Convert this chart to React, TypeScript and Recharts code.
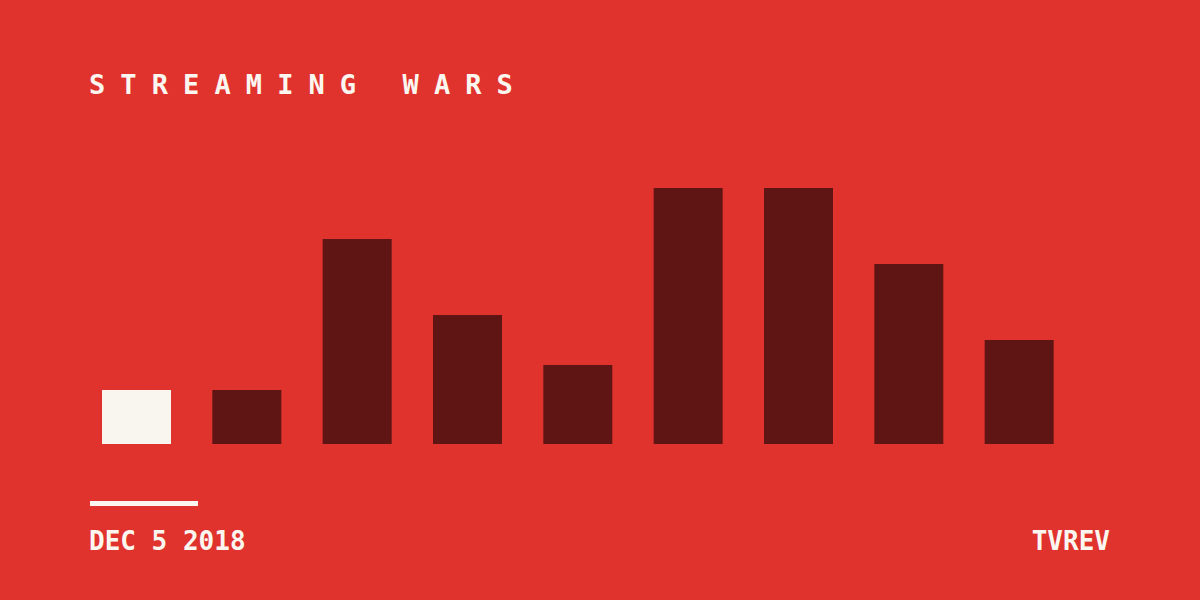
import { BarChart, Bar, XAxis, YAxis, Cell } from "recharts"

const categories = ["A", "B", "C", "D", "E", "F", "G", "H", "I"]
const values = [54, 54, 205, 129, 79, 256, 256, 180, 104]
const highlighted = [true, false, false, false, false, false, false, false, false]

const title = "STREAMING WARS"
const dateLabel = "DEC 5 2018"
const brand = "TVREV"

const data = categories.map((name, i) => ({ name, value: values[i], hi: highlighted[i] }))

const mono = "'DejaVu Sans Mono', 'Liberation Mono', monospace"

export default function App() {
  return (
    <div
      style={{
        position: "absolute",
        left: 0,
        top: 0,
        width: 1200,
        height: 600,
        background: "#E0332E",
        overflow: "hidden",
        fontFamily: mono,
        color: "#FBF7F0",
      }}
    >
      <div
        style={{
          position: "absolute",
          left: 89,
          top: 68,
          fontSize: 27,
          fontWeight: 700,
          letterSpacing: 15.1,
          lineHeight: "34px",
          whiteSpace: "pre",
        }}
      >
        {title}
      </div>

      <BarChart
        width={1200}
        height={600}
        data={data}
        margin={{ top: 188, right: 126, left: 81, bottom: 156 }}
        style={{ position: "absolute", left: 0, top: 0 }}
      >
        <XAxis dataKey="name" hide />
        <YAxis hide domain={[0, 256]} />
        <Bar dataKey="value" barSize={69} isAnimationActive={false}>
          {data.map((d) => (
            <Cell key={d.name} fill={d.hi ? "#F9F6F0" : "#5E1514"} />
          ))}
        </Bar>
      </BarChart>

      <div style={{ position: "absolute", left: 90, top: 501, width: 108, height: 5, background: "#FBF7F0" }} />

      <div
        style={{
          position: "absolute",
          left: 89,
          top: 526,
          fontSize: 26,
          fontWeight: 700,
          lineHeight: "30px",
          whiteSpace: "pre",
        }}
      >
        {dateLabel}
      </div>
      <div
        style={{
          position: "absolute",
          right: 90,
          top: 526,
          fontSize: 26,
          fontWeight: 700,
          lineHeight: "30px",
          whiteSpace: "pre",
        }}
      >
        {brand}
      </div>
    </div>
  )
}
